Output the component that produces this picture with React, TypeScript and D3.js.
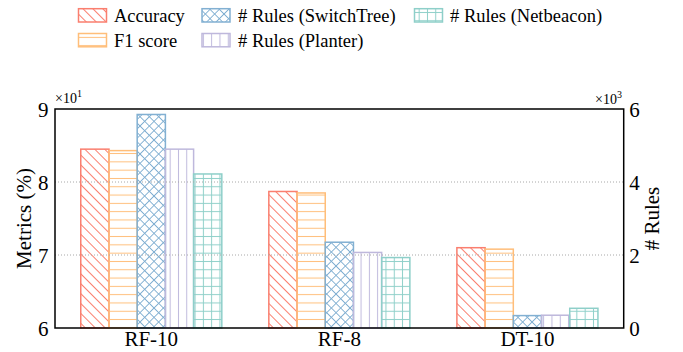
import React from "react";
import * as d3 from "d3";

// Models on the x axis
const models = ["RF-10", "RF-8", "DT-10"];

// Left axis metrics (%)
const accuracy = [84.5, 78.7, 71.0];
const f1Score = [84.3, 78.5, 70.8];

// Right axis rule counts
const rulesSwitchTree = [5850, 2350, 340];
const rulesPlanter = [4900, 2070, 350];
const rulesNetbeacon = [4220, 1930, 540];

const leftTicks = [60, 70, 80, 90];
const rightTicks = [0, 2000, 4000, 6000];

type Series = {
  key: string;
  label: string;
  color: string;
  axis: "left" | "right";
  values: number[];
  hatch: string;
};

const series: Series[] = [
  { key: "acc", label: "Accuracy", color: "#FA7F6F", axis: "left", values: accuracy, hatch: "bslash" },
  { key: "f1", label: "F1 score", color: "#FFBE7A", axis: "left", values: f1Score, hatch: "hline" },
  { key: "st", label: "# Rules (SwitchTree)", color: "#82B0D2", axis: "right", values: rulesSwitchTree, hatch: "cross" },
  { key: "pl", label: "# Rules (Planter)", color: "#BEB8DC", axis: "right", values: rulesPlanter, hatch: "vline" },
  { key: "nb", label: "# Rules (Netbeacon)", color: "#8ECFC9", axis: "right", values: rulesNetbeacon, hatch: "grid" },
];

const W = 683;
const H = 352;
const plot = { left: 55, right: 623.7, top: 109, bottom: 328 };
const FONT = "'Liberation Serif', 'Times New Roman', Times, serif";

function HatchPattern({ s }: { s: Series }) {
  const id = `hatch-${s.key}`;
  const c = s.color;
  const lw = 1;
  if (s.hatch === "bslash") {
    const d = 7;
    return (
      <pattern id={id} patternUnits="userSpaceOnUse" width={d} height={d} patternTransform="rotate(45)">
        <line x1={0} y1={d / 2} x2={d} y2={d / 2} stroke={c} strokeWidth={lw} />
      </pattern>
    );
  }
  if (s.hatch === "cross") {
    const d = 6.6;
    return (
      <pattern id={id} patternUnits="userSpaceOnUse" width={d} height={d} patternTransform="rotate(45)">
        <line x1={0} y1={d / 2} x2={d} y2={d / 2} stroke={c} strokeWidth={lw} />
        <line x1={d / 2} y1={0} x2={d / 2} y2={d} stroke={c} strokeWidth={lw} />
      </pattern>
    );
  }
  const p = 8.3;
  return (
    <pattern id={id} patternUnits="userSpaceOnUse" width={p} height={p}>
      {(s.hatch === "hline" || s.hatch === "grid") && (
        <line x1={0} y1={p / 2} x2={p} y2={p / 2} stroke={c} strokeWidth={lw} />
      )}
      {(s.hatch === "vline" || s.hatch === "grid") && (
        <line x1={p / 2} y1={0} x2={p / 2} y2={p} stroke={c} strokeWidth={lw} />
      )}
    </pattern>
  );
}

export default function App() {
  const x0 = d3
    .scaleBand<string>()
    .domain(models)
    .range([plot.left, plot.right])
    .paddingInner(0)
    .paddingOuter(0.012);
  const groupWidth = x0.bandwidth() * 0.75;
  const x1 = d3
    .scaleBand<string>()
    .domain(series.map((s) => s.key))
    .range([0, groupWidth])
    .padding(0);

  const yLeft = d3.scaleLinear().domain([60, 90]).range([plot.bottom, plot.top]);
  const yRight = d3.scaleLinear().domain([0, 6000]).range([plot.bottom, plot.top]);

  const gridVals = [70, 80];

  const legendCols = [
    { swX: 78.5, txX: 114 },
    { swX: 202, txX: 238 },
    { swX: 414.5, txX: 450 },
  ];
  const legendRows = [
    { swY: 8.7, txY: 21.5 },
    { swY: 33.5, txY: 46.5 },
  ];
  // legend order: column-major in two rows
  const legendPos = [
    { c: 0, r: 0 },
    { c: 0, r: 1 },
    { c: 1, r: 0 },
    { c: 1, r: 1 },
    { c: 2, r: 0 },
  ];

  return (
    <svg width={W} height={H} style={{ display: "block", position: "absolute", left: 0, top: 0 }} fontFamily={FONT}>
      <defs>
        {series.map((s) => (
          <HatchPattern key={s.key} s={s} />
        ))}
      </defs>
      <rect x={0} y={0} width={W} height={H} fill="#ffffff" />

      {/* bars */}
      {models.map((m, i) => {
        const gx = x0(m)! + (x0.bandwidth() - groupWidth) / 2;
        return (
          <g key={m}>
            {series.map((s) => {
              const y = s.axis === "left" ? yLeft : yRight;
              const v = s.values[i];
              const top = y(v);
              return (
                <rect
                  key={s.key}
                  x={gx + x1(s.key)!}
                  y={top}
                  width={x1.bandwidth()}
                  height={plot.bottom - top}
                  fill={`url(#hatch-${s.key})`}
                  stroke={s.color}
                  strokeWidth={1.5}
                />
              );
            })}
          </g>
        );
      })}

      {/* grid */}
      {gridVals.map((g) => (
        <line
          key={g}
          x1={plot.left}
          x2={plot.right}
          y1={yLeft(g)}
          y2={yLeft(g)}
          stroke="#a8a8a8"
          strokeWidth={1}
          strokeDasharray="1,2"
        />
      ))}

      {/* frame */}
      <rect
        x={plot.left}
        y={plot.top}
        width={plot.right - plot.left}
        height={plot.bottom - plot.top}
        fill="none"
        stroke="#000"
        strokeWidth={1.5}
      />

      {/* left ticks */}
      {leftTicks.map((t) => (
        <text key={t} x={plot.left - 6.5} y={yLeft(t) + 8} textAnchor="end" fontSize={21} fill="#000">
          {t / 10}
        </text>
      ))}
      <text x={plot.left} y={103} fontSize={14} fill="#000">
        ×10
        <tspan dy={-6} fontSize={10}>
          1
        </tspan>
      </text>

      {/* right ticks */}
      {rightTicks.map((t) => (
        <text key={t} x={plot.right + 5.5} y={yRight(t) + 8} textAnchor="start" fontSize={21} fill="#000">
          {t / 1000}
        </text>
      ))}
      <text x={595} y={104} fontSize={14} fill="#000">
        ×10
        <tspan dy={-6} fontSize={10}>
          3
        </tspan>
      </text>

      {/* x labels */}
      {models.map((m) => (
        <text key={m} x={x0(m)! + x0.bandwidth() / 2} y={346} textAnchor="middle" fontSize={21} fill="#000">
          {m}
        </text>
      ))}

      {/* axis titles */}
      <text
        transform={`translate(31,${(plot.top + plot.bottom) / 2}) rotate(-90)`}
        textAnchor="middle"
        fontSize={21}
        fill="#000"
      >
        Metrics (%)
      </text>
      <text
        transform={`translate(659,${(plot.top + plot.bottom) / 2}) rotate(-90)`}
        textAnchor="middle"
        fontSize={21}
        fill="#000"
      >
        # Rules
      </text>

      {/* legend */}
      {series.map((s, i) => {
        const p = legendPos[i];
        const col = legendCols[p.c];
        const row = legendRows[p.r];
        return (
          <g key={s.key}>
            <rect
              x={col.swX}
              y={row.swY}
              width={28}
              height={13.3}
              fill={`url(#hatch-${s.key})`}
              stroke={s.color}
              strokeWidth={1.5}
            />
            <text x={col.txX} y={row.txY} fontSize={18.5} fill="#000">
              {s.label}
            </text>
          </g>
        );
      })}
    </svg>
  );
}
